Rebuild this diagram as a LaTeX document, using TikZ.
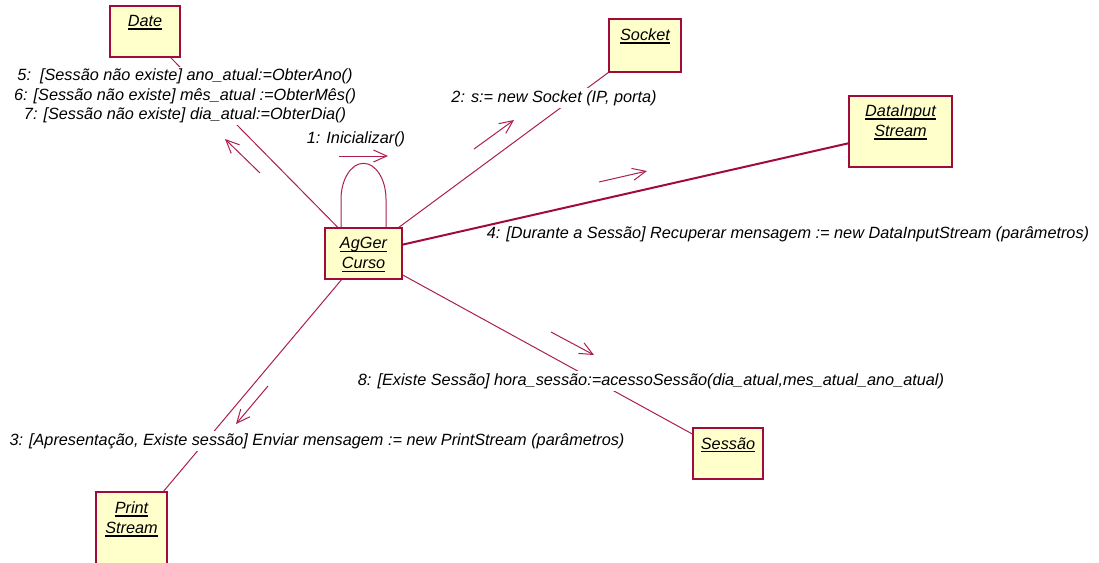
\documentclass[tikz,border=0pt]{standalone}
\usepackage{fontspec}
\setmainfont{Liberation Sans}
\usetikzlibrary{arrows.meta}

\definecolor{linkred}{RGB}{170,30,80}
\definecolor{boxred}{RGB}{160,10,60}
\definecolor{boxfill}{RGB}{255,255,204}

\newcommand{\objname}[1]{\setbox0=\hbox{#1}\rlap{\rule[-2.4pt]{\wd0}{1.2pt}}\box0}

\tikzset{
	objbox/.style={draw=boxred, fill=boxfill, line width=1pt, inner sep=0pt},
	objlabel/.style={anchor=north, inner sep=0pt, align=center, font=\itshape\fontsize{12.2}{15}\selectfont},
	msgtext/.style={fill=white, inner sep=1.5pt, align=center, font=\itshape\fontsize{12.2}{14.6}\selectfont},
	link/.style={draw=linkred, line width=0.75pt},
	msgarrow/.style={draw=linkred, line width=0.75pt, -{Straight Barb[length=10pt,width=9pt]}}
}

\begin{document}
\begin{tikzpicture}[x=0.75pt,y=0.75pt,yscale=-1,xscale=1]
	\clip (0,0) rectangle (1099,562);
	
	% Objects
	\node [objbox, minimum width=52.5pt, minimum height=38.25pt] (date) at (145,31.5) {};
	\node [objbox, minimum width=54pt, minimum height=39.75pt] (socket) at (645,45.5) {};
	\node [objbox, minimum width=77.25pt, minimum height=53.25pt] (dis) at (900.5,131.5) {};
	\node [objbox, minimum width=57.75pt, minimum height=38.25pt] (agger) at (363.5,253.5) {};
	\node [objbox, minimum width=53.25pt, minimum height=56.25pt] (print) at (131.5,529.5) {};
	\node [objbox, minimum width=52.5pt, minimum height=38.25pt] (sessao) at (728,453.5) {};
	
	% Object names
	\node [objlabel] (datename) at ([yshift=7.5pt]date.north) {\objname{Date}};
	\node [objlabel] (socketname) at ([yshift=7.5pt]socket.north) {\objname{Socket}};
	\node [objlabel] (disname) at ([yshift=7.5pt]dis.north) {\objname{DataInput}\\\objname{Stream}};
	\node [objlabel] (aggername) at ([yshift=7.5pt]agger.north) {\objname{AgGer}\\\objname{Curso}};
	\node [objlabel] (printname) at ([yshift=7.5pt]print.north) {\objname{Print}\\\objname{Stream}};
	\node [objlabel] (sessaoname) at ([yshift=7.5pt]sessao.north) {\objname{Sessão}};
	
	%Straight Lines
	\draw [link] (agger) -- (date);
	\draw [link] (agger) -- (socket);
	\draw [link, line width=1.5pt, draw=boxred] (agger) -- (dis);
	\draw [link] (agger) -- (sessao);
	\draw [link] (agger) -- (print);
	%Self link
	\draw [link] ([xshift=-16.875pt]agger.north) -- ++(0,-28) arc [start angle=180, end angle=360, x radius=22.5, y radius=36] -- ++(0,28);
	
	% Message arrows
	\coordinate (m1a) at (339,156);
	\coordinate (m1b) at (388,156);
	\coordinate (m2a) at (474,149);
	\coordinate (m2b) at (514,120);
	\coordinate (m3a) at (268,386);
	\coordinate (m3b) at (236,424);
	\coordinate (m4a) at (599,182);
	\coordinate (m4b) at (647,171);
	\coordinate (m5a) at (260,173);
	\coordinate (m5b) at (225,139);
	\coordinate (m8a) at (551,332);
	\coordinate (m8b) at (594,355);
	\draw [msgarrow] (m1a) -- (m1b);
	\draw [msgarrow] (m2a) -- (m2b);
	\draw [msgarrow] (m3a) -- (m3b);
	\draw [msgarrow] (m4a) -- (m4b);
	\draw [msgarrow] (m5a) -- (m5b);
	\draw [msgarrow] (m8a) -- (m8b);
	
	% Text Node
	\node [msgtext] (msgdate) at (185,96) {5:\ \ [Sessão não existe] ano\_atual:=ObterAno()\\6: [Sessão não existe] mês\_atual :=ObterMês()\\7: [Sessão não existe] dia\_atual:=ObterDia()};
	% Text Node
	\node [msgtext] (msginit) at (356,139) {1: Inicializar()};
	% Text Node
	\node [msgtext] (msgsocket) at (554,98) {2: s:= new Socket (IP, porta)};
	% Text Node
	\node [msgtext, fill=none] (msgdis) at (788,234) {4: [Durante a Sessão] Recuperar mensagem := new DataInputStream (parâmetros)};
	% Text Node
	\node [msgtext] (msgsessao) at (651,381) {8: [Existe Sessão] hora\_sessão:=acessoSessão(dia\_atual,mes\_atual\_ano\_atual)};
	% Text Node
	\node [msgtext] (msgprint) at (317,441) {3: [Apresentação, Existe sessão] Enviar mensagem := new PrintStream (parâmetros)};
	
\end{tikzpicture}
\end{document}
